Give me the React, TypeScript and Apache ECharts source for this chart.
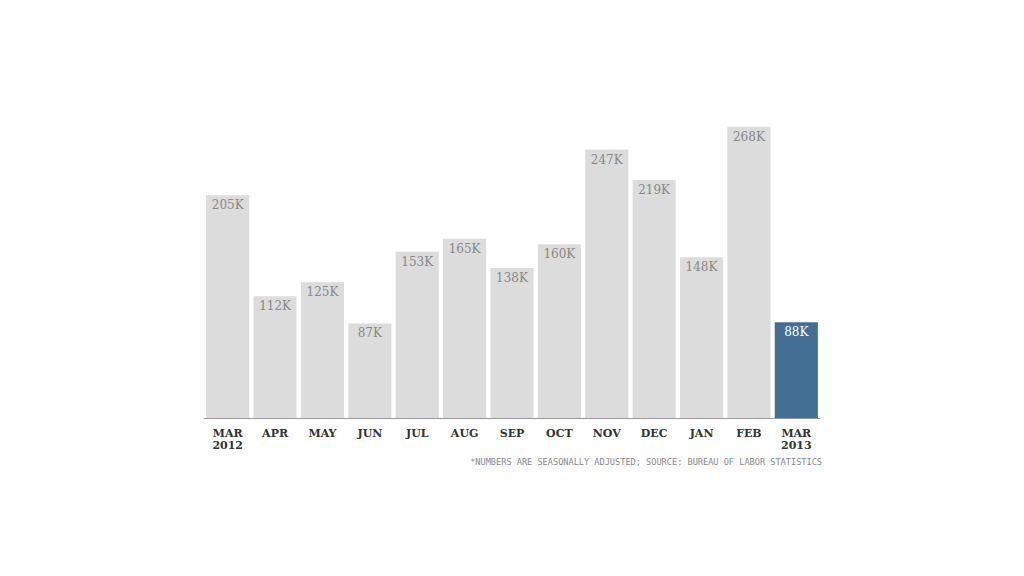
import React, { useEffect, useRef } from "react";
import * as echarts from "echarts";

const categories = ["MAR\n2012", "APR", "MAY", "JUN", "JUL", "AUG", "SEP", "OCT", "NOV", "DEC", "JAN", "FEB", "MAR\n2013"];
const values = [205, 112, 125, 87, 153, 165, 138, 160, 247, 219, 148, 268, 88];
const highlightIndex = 12;
const footnote = "*NUMBERS ARE SEASONALLY ADJUSTED; SOURCE: BUREAU OF LABOR STATISTICS";

export default function App() {
  const ref = useRef<HTMLDivElement>(null);
  useEffect(() => {
    if (!ref.current) return;
    const chart = echarts.init(ref.current, null, { renderer: "svg" });
    chart.setOption({
      animation: false,
      backgroundColor: "#ffffff",
      grid: { left: 204, right: 204, top: 92, bottom: 158 },
      xAxis: {
        type: "category",
        data: categories,
        axisLine: { lineStyle: { color: "#999999", width: 1 } },
        axisTick: { show: false },
        axisLabel: {
          color: "#333333",
          fontFamily: "DejaVu Serif",
          fontWeight: "bold",
          fontSize: 11,
          lineHeight: 12,
          margin: 9,
        },
      },
      yAxis: {
        type: "value",
        min: 0,
        max: 300,
        show: false,
        splitLine: { show: false },
      },
      series: [
        {
          type: "bar",
          data: values.map((v, i) => ({
            value: v,
            itemStyle: { color: i === highlightIndex ? "#426f93" : "#dcdcdc" },
            label: { color: i === highlightIndex ? "#ffffff" : "#888888" },
          })),
          barCategoryGap: "9%",
          label: {
            show: true,
            position: "insideTop",
            distance: 4,
            formatter: (p: any) => p.value + "K",
            fontFamily: "DejaVu Serif",
            fontSize: 12,
            color: "#888888",
          },
        },
      ],
      graphic: [
        {
          type: "text",
          right: 202,
          top: 457,
          style: {
            text: footnote,
            fill: "#888888",
            font: "8.6px 'DejaVu Sans Mono'",
          },
        },
      ],
    });
    return () => chart.dispose();
  }, []);
  return <div ref={ref} style={{ width: 1024, height: 576, position: "absolute", left: 0, top: 0 }} />;
}
